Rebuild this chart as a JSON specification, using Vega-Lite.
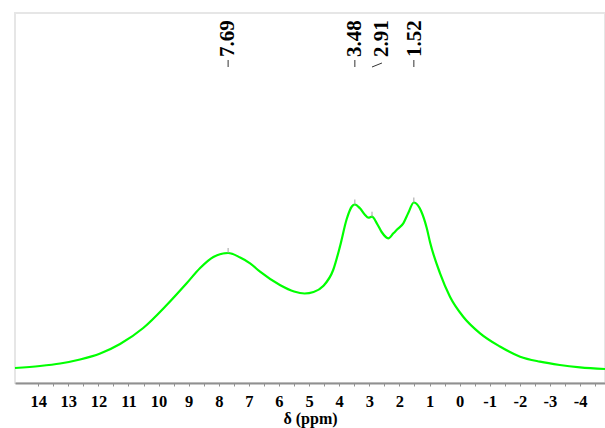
{
  "$schema": "https://vega.github.io/schema/vega-lite/v6.json",
  "width": 590,
  "height": 370,
  "autosize": {"type": "none"},
  "padding": {"left": 15, "top": 13, "right": 0, "bottom": 45},
  "background": "white",
  "config": {
    "view": {"stroke": "#e6e6e6", "strokeWidth": 2},
    "font": "Liberation Serif",
    "axisX": {
      "labelOverlap": false,
      "labelFont": "Liberation Serif",
      "labelFontWeight": "bold",
      "labelFontSize": 16.5,
      "labelColor": "black",
      "labelPadding": 7,
      "titleFont": "Liberation Serif",
      "titleFontWeight": "bold",
      "titleFontSize": 16,
      "titleColor": "black",
      "titlePadding": 1,
      "domainColor": "#909090",
      "domainWidth": 2,
      "tickColor": "#909090",
      "tickSize": 3,
      "tickWidth": 1,
      "grid": false
    }
  },
  "datasets": {
    "spectrum": [
      {"ppm": 14.77, "intensity": 15},
      {"ppm": 13.94, "intensity": 17},
      {"ppm": 13.27, "intensity": 19.5},
      {"ppm": 12.61, "intensity": 23.5},
      {"ppm": 11.94, "intensity": 29.5},
      {"ppm": 11.28, "intensity": 39},
      {"ppm": 10.51, "intensity": 55},
      {"ppm": 9.73, "intensity": 78},
      {"ppm": 9.06, "intensity": 100},
      {"ppm": 8.62, "intensity": 115},
      {"ppm": 8.18, "intensity": 126},
      {"ppm": 7.69, "intensity": 130},
      {"ppm": 7.29, "intensity": 125.5},
      {"ppm": 6.96, "intensity": 119.7},
      {"ppm": 6.63, "intensity": 111.3},
      {"ppm": 5.97, "intensity": 98},
      {"ppm": 5.50, "intensity": 91.5},
      {"ppm": 5.15, "intensity": 89.5},
      {"ppm": 4.85, "intensity": 91},
      {"ppm": 4.53, "intensity": 97},
      {"ppm": 4.20, "intensity": 113},
      {"ppm": 3.97, "intensity": 137},
      {"ppm": 3.75, "intensity": 164},
      {"ppm": 3.58, "intensity": 176.5},
      {"ppm": 3.48, "intensity": 178.5},
      {"ppm": 3.31, "intensity": 174.7},
      {"ppm": 3.14, "intensity": 168},
      {"ppm": 3.03, "intensity": 165.3},
      {"ppm": 2.91, "intensity": 166.3},
      {"ppm": 2.75, "intensity": 159.7},
      {"ppm": 2.59, "intensity": 151},
      {"ppm": 2.37, "intensity": 144.7},
      {"ppm": 2.20, "intensity": 149.7},
      {"ppm": 2.06, "intensity": 154},
      {"ppm": 1.87, "intensity": 159.7},
      {"ppm": 1.71, "intensity": 169.7},
      {"ppm": 1.52, "intensity": 180.5},
      {"ppm": 1.28, "intensity": 172},
      {"ppm": 1.09, "intensity": 154.7},
      {"ppm": 0.98, "intensity": 140.5},
      {"ppm": 0.65, "intensity": 109.7},
      {"ppm": 0.32, "intensity": 86.3},
      {"ppm": -0.12, "intensity": 66.3},
      {"ppm": -0.68, "intensity": 49.7},
      {"ppm": -1.34, "intensity": 36.5},
      {"ppm": -2.01, "intensity": 26.3},
      {"ppm": -2.67, "intensity": 21.3},
      {"ppm": -3.33, "intensity": 18},
      {"ppm": -4.00, "intensity": 15.7},
      {"ppm": -4.83, "intensity": 14}
    ],
    "peaks": [
      {"ppm": 7.69, "top": 130, "topEnd": 135, "label": "7.69", "lx": 7.69, "ly1": 316, "lx2": 7.69, "ly2": 323},
      {"ppm": 3.48, "top": 178.5, "topEnd": 183.5, "label": "3.48", "lx": 3.48, "ly1": 316, "lx2": 3.48, "ly2": 323},
      {"ppm": 2.91, "top": 166.3, "topEnd": 171.3, "label": "2.91", "lx": 2.58, "ly1": 316, "lx2": 2.58, "ly2": 320},
      {"ppm": 1.52, "top": 180.5, "topEnd": 185.5, "label": "1.52", "lx": 1.47, "ly1": 316, "lx2": 1.52, "ly2": 323}
    ]
  },
  "layer": [
    {
      "data": {"name": "spectrum"},
      "mark": {"type": "line", "color": "#00ff00", "strokeWidth": 2.2, "interpolate": "monotone"},
      "encoding": {
        "x": {
          "field": "ppm",
          "type": "quantitative",
          "scale": {"domain": [14.77, -4.83], "nice": false, "zero": false},
          "axis": {
            "title": "δ (ppm)",
            "values": [14, 13.5, 13, 12.5, 12, 11.5, 11, 10.5, 10, 9.5, 9, 8.5, 8, 7.5, 7, 6.5, 6, 5.5, 5, 4.5, 4, 3.5, 3, 2.5, 2, 1.5, 1, 0.5, 0, -0.5, -1, -1.5, -2, -2.5, -3, -3.5, -4, -4.5],
            "labelExpr": "datum.value % 1 == 0 ? toString(datum.value) : ''",
            "labelOverlap": false
          }
        },
        "y": {
          "field": "intensity",
          "type": "quantitative",
          "scale": {"domain": [0, 370], "nice": false, "zero": false},
          "axis": null
        }
      }
    },
    {
      "data": {"name": "peaks"},
      "mark": {"type": "rule", "color": "#a0a0a0", "strokeWidth": 1},
      "encoding": {
        "x": {"field": "ppm", "type": "quantitative", "axis": {
            "title": "δ (ppm)",
            "values": [14, 13.5, 13, 12.5, 12, 11.5, 11, 10.5, 10, 9.5, 9, 8.5, 8, 7.5, 7, 6.5, 6, 5.5, 5, 4.5, 4, 3.5, 3, 2.5, 2, 1.5, 1, 0.5, 0, -0.5, -1, -1.5, -2, -2.5, -3, -3.5, -4, -4.5],
            "labelExpr": "datum.value % 1 == 0 ? toString(datum.value) : ''",
            "labelOverlap": false
          }},
        "y": {"field": "top", "type": "quantitative"},
        "y2": {"field": "topEnd"}
      }
    },
    {
      "data": {"name": "peaks"},
      "mark": {"type": "rule", "color": "#333333", "strokeWidth": 1},
      "encoding": {
        "x": {"field": "ppm", "type": "quantitative", "axis": {
            "title": "δ (ppm)",
            "values": [14, 13.5, 13, 12.5, 12, 11.5, 11, 10.5, 10, 9.5, 9, 8.5, 8, 7.5, 7, 6.5, 6, 5.5, 5, 4.5, 4, 3.5, 3, 2.5, 2, 1.5, 1, 0.5, 0, -0.5, -1, -1.5, -2, -2.5, -3, -3.5, -4, -4.5],
            "labelExpr": "datum.value % 1 == 0 ? toString(datum.value) : ''",
            "labelOverlap": false
          }},
        "y": {"field": "ly1", "type": "quantitative"},
        "x2": {"field": "lx2"},
        "y2": {"field": "ly2"}
      }
    },
    {
      "data": {"name": "peaks"},
      "mark": {"type": "text", "angle": 270, "align": "left", "baseline": "middle", "font": "Liberation Serif", "fontWeight": "bold", "fontSize": 21, "color": "black"},
      "encoding": {
        "x": {"field": "lx", "type": "quantitative", "axis": {
            "title": "δ (ppm)",
            "values": [14, 13.5, 13, 12.5, 12, 11.5, 11, 10.5, 10, 9.5, 9, 8.5, 8, 7.5, 7, 6.5, 6, 5.5, 5, 4.5, 4, 3.5, 3, 2.5, 2, 1.5, 1, 0.5, 0, -0.5, -1, -1.5, -2, -2.5, -3, -3.5, -4, -4.5],
            "labelExpr": "datum.value % 1 == 0 ? toString(datum.value) : ''",
            "labelOverlap": false
          }},
        "y": {"datum": 326, "type": "quantitative"},
        "text": {"field": "label"}
      }
    }
  ]
}
